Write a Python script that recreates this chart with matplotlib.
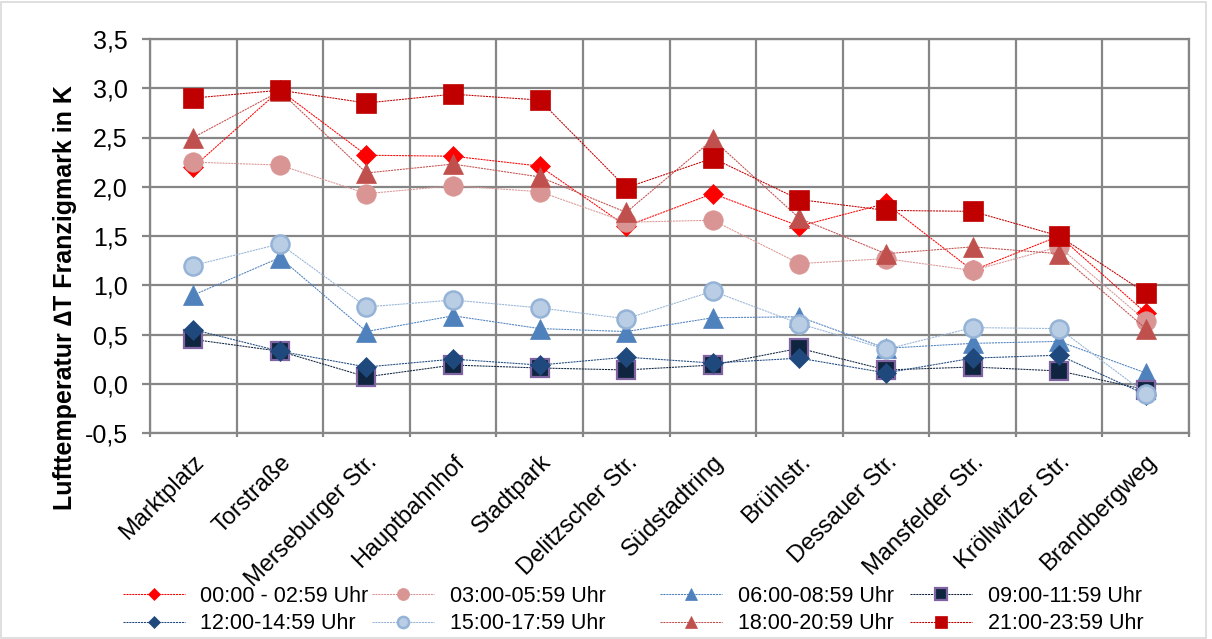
import matplotlib
matplotlib.use("Agg")
import matplotlib.pyplot as plt
from matplotlib.ticker import FuncFormatter, MultipleLocator
from matplotlib.patches import Rectangle

categories = ["Marktplatz", "Torstraße", "Merseburger Str.", "Hauptbahnhof", "Stadtpark",
              "Delitzscher Str.", "Südstadtring", "Brühlstr.", "Dessauer Str.",
              "Mansfelder Str.", "Kröllwitzer Str.", "Brandbergweg"]

s_00 = [2.20, 2.98, 2.32, 2.31, 2.21, 1.60, 1.93, 1.60, 1.83, 1.15, 1.50, 0.72]
s_03 = [2.25, 2.22, 1.93, 2.01, 1.95, 1.64, 1.66, 1.22, 1.27, 1.15, 1.39, 0.64]
s_06 = [0.90, 1.28, 0.53, 0.69, 0.56, 0.53, 0.67, 0.68, 0.36, 0.41, 0.43, 0.11]
s_09 = [0.45, 0.33, 0.07, 0.19, 0.16, 0.14, 0.19, 0.36, 0.14, 0.17, 0.13, -0.06]
s_12 = [0.55, 0.33, 0.17, 0.25, 0.19, 0.27, 0.21, 0.26, 0.11, 0.26, 0.29, -0.11]
s_15 = [1.20, 1.42, 0.78, 0.85, 0.77, 0.66, 0.94, 0.61, 0.35, 0.57, 0.56, -0.10]
s_18 = [2.50, 2.97, 2.14, 2.23, 2.10, 1.74, 2.48, 1.68, 1.32, 1.39, 1.32, 0.56]
s_21 = [2.90, 2.98, 2.85, 2.94, 2.88, 1.99, 2.29, 1.87, 1.76, 1.75, 1.50, 0.92]

labels = ["00:00 - 02:59 Uhr", "03:00-05:59 Uhr", "06:00-08:59 Uhr", "09:00-11:59 Uhr",
          "12:00-14:59 Uhr", "15:00-17:59 Uhr", "18:00-20:59 Uhr", "21:00-23:59 Uhr"]
series = [s_00, s_03, s_06, s_09, s_12, s_15, s_18, s_21]

styles = [
    dict(marker="D", color="#FF0000", mfc="#FF0000", mec="#FF0000", ms=10.5, mew=0.5),
    dict(marker="o", color="#D99594", mfc="#D99594", mec="#D99594", ms=14, mew=0.5),
    dict(marker="^", color="#4F81BD", mfc="#4F81BD", mec="#4F81BD", ms=14, mew=0.5),
    dict(marker="s", color="#0F243E", mfc="#0F243E", mec="#8064A2", ms=13, mew=1.6),
    dict(marker="D", color="#1F497D", mfc="#1F497D", mec="#1F497D", ms=10.5, mew=0.5),
    dict(marker="o", color="#95B3D7", mfc="#B9CDE5", mec="#95B3D7", ms=13, mew=1.8),
    dict(marker="^", color="#C0504D", mfc="#C0504D", mec="#C0504D", ms=14, mew=0.5),
    dict(marker="s", color="#C00000", mfc="#C00000", mec="#C00000", ms=14, mew=0.5),
]

plt.rcParams['font.family'] = ['Liberation Sans', 'DejaVu Sans']

W, H = 1212, 639
fig = plt.figure(figsize=(W / 100, H / 100), dpi=100)
ax = fig.add_axes([150 / W, 1 - 433 / H, (1189 - 150) / W, (433 - 39) / H])

x = list(range(len(categories)))
handles = []
for lab, vals, st in zip(labels, series, styles):
    h, = ax.plot(x, vals, linestyle=(0, (2, 0.8)), linewidth=0.75, label=lab, **st)
    handles.append(h)

ax.set_xlim(-0.5, len(categories) - 0.5)
ax.set_ylim(-0.5, 3.5)
ax.yaxis.set_major_locator(MultipleLocator(0.5))
ax.yaxis.set_major_formatter(FuncFormatter(lambda v, p: f"{v:.1f}".replace(".", ",")))
ax.set_xticks(x)
ax.set_xticklabels(categories, rotation=45, ha="right", rotation_mode="anchor", fontsize=17)
ax.set_xticks([i + 0.5 for i in range(-1, len(categories))], minor=True)
ax.tick_params(axis="x", which="major", length=0, pad=13)
ax.tick_params(axis="x", which="minor", length=3, color="#868686", width=1.6)
ax.tick_params(axis="y", labelsize=18, length=6, pad=10, color="#868686", width=1.6)
ax.grid(True, axis="y", which="major", color="#868686", linewidth=1.6)
ax.grid(True, axis="x", which="minor", color="#868686", linewidth=1.6)
ax.set_axisbelow(True)
for sp in ax.spines.values():
    sp.set_color("#868686")
    sp.set_linewidth(1.6)

ax.set_ylabel("Lufttemperatur \u2206T Franzigmark in K", fontsize=18, fontweight="bold")
ax.yaxis.set_label_coords(-0.0703, 0.345)

# legend: 4 columns, 2 rows (row-wise order as in the reference)
col_x = [123, 372, 660, 910]
for c in range(4):
    idx = [c, c + 4]
    fig.legend([handles[i] for i in idx], [labels[i] for i in idx],
               loc="center left", bbox_to_anchor=(col_x[c] / W, 1 - 610 / H),
               frameon=False, fontsize=15.5, markerscale=0.62, handlelength=2.9,
               handletextpad=0.7, labelspacing=0.3, borderpad=0, borderaxespad=0)

fig.patches.append(Rectangle((0.001, 0.002), 0.994, 0.995, transform=fig.transFigure,
                             fill=False, edgecolor="#D9D9D9", linewidth=1.2))

fig.savefig("out.png", dpi=100)
